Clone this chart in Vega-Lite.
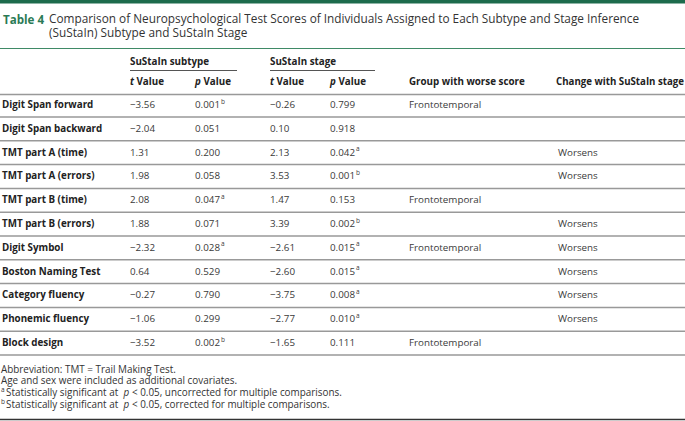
{
  "$schema": "https://vega.github.io/schema/vega-lite/v6.json",
  "width": 685,
  "height": 421,
  "padding": 0,
  "autosize": {"type": "none"},
  "background": "white",
  "config": {"view": {"stroke": null}, "text": {"font": "Open Sans"}},
  "datasets": {
    "tests": [
      {"test": "Digit Span forward", "t_sub": "−3.56", "p_sub": "0.001", "p_sub_note": "b", "t_stage": "−0.26", "p_stage": "0.799", "p_stage_note": "", "group": "Frontotemporal", "change": ""},
      {"test": "Digit Span backward", "t_sub": "−2.04", "p_sub": "0.051", "p_sub_note": "", "t_stage": "0.10", "p_stage": "0.918", "p_stage_note": "", "group": "", "change": ""},
      {"test": "TMT part A (time)", "t_sub": "1.31", "p_sub": "0.200", "p_sub_note": "", "t_stage": "2.13", "p_stage": "0.042", "p_stage_note": "a", "group": "", "change": "Worsens"},
      {"test": "TMT part A (errors)", "t_sub": "1.98", "p_sub": "0.058", "p_sub_note": "", "t_stage": "3.53", "p_stage": "0.001", "p_stage_note": "b", "group": "", "change": "Worsens"},
      {"test": "TMT part B (time)", "t_sub": "2.08", "p_sub": "0.047", "p_sub_note": "a", "t_stage": "1.47", "p_stage": "0.153", "p_stage_note": "", "group": "Frontotemporal", "change": ""},
      {"test": "TMT part B (errors)", "t_sub": "1.88", "p_sub": "0.071", "p_sub_note": "", "t_stage": "3.39", "p_stage": "0.002", "p_stage_note": "b", "group": "", "change": "Worsens"},
      {"test": "Digit Symbol", "t_sub": "−2.32", "p_sub": "0.028", "p_sub_note": "a", "t_stage": "−2.61", "p_stage": "0.015", "p_stage_note": "a", "group": "Frontotemporal", "change": "Worsens"},
      {"test": "Boston Naming Test", "t_sub": "0.64", "p_sub": "0.529", "p_sub_note": "", "t_stage": "−2.60", "p_stage": "0.015", "p_stage_note": "a", "group": "", "change": "Worsens"},
      {"test": "Category fluency", "t_sub": "−0.27", "p_sub": "0.790", "p_sub_note": "", "t_stage": "−3.75", "p_stage": "0.008", "p_stage_note": "a", "group": "", "change": "Worsens"},
      {"test": "Phonemic fluency", "t_sub": "−1.06", "p_sub": "0.299", "p_sub_note": "", "t_stage": "−2.77", "p_stage": "0.010", "p_stage_note": "a", "group": "", "change": "Worsens"},
      {"test": "Block design", "t_sub": "−3.52", "p_sub": "0.002", "p_sub_note": "b", "t_stage": "−1.65", "p_stage": "0.111", "p_stage_note": "", "group": "Frontotemporal", "change": ""}
    ],
    "one": [{}]
  },
  "layer": [
    {"data": {"name": "one"}, "mark": {"type": "rule", "color": "#1d6b4c", "strokeWidth": 4}, "encoding": {"y": {"value": 1.5}}},
    {"data": {"name": "one"}, "mark": {"type": "rule", "color": "#3f8a66", "strokeWidth": 1}, "encoding": {"y": {"value": 48.5}}},
    {"data": {"name": "one"}, "mark": {"type": "rule", "color": "#555", "strokeWidth": 1}, "encoding": {"x": {"value": 130}, "x2": {"value": 237}, "y": {"value": 70.5}}},
    {"data": {"name": "one"}, "mark": {"type": "rule", "color": "#555", "strokeWidth": 1}, "encoding": {"x": {"value": 270}, "x2": {"value": 375}, "y": {"value": 70.5}}},
    {"data": {"name": "one"}, "mark": {"type": "rule", "color": "#999", "strokeWidth": 1.5}, "encoding": {"y": {"value": 94.5}}},
    {"data": {"name": "one"}, "mark": {"type": "rule", "color": "#333", "strokeWidth": 1.5}, "encoding": {"y": {"value": 419.5}}},
    {"data": {"name": "one"}, "mark": {"type": "text", "align": "left", "baseline": "middle", "fontSize": 11.6, "fontWeight": "bold", "color": "#2a7a55"}, "encoding": {"x": {"value": 3}, "y": {"value": 21}, "text": {"value": "Table 4"}}},
    {"data": {"name": "one"}, "mark": {"type": "text", "align": "left", "baseline": "top", "fontSize": 11.8, "lineHeight": 14, "color": "#333"}, "encoding": {"x": {"value": 49}, "y": {"value": 13.5}, "text": {"value": ["Comparison of Neuropsychological Test Scores of Individuals Assigned to Each Subtype and Stage Inference", "(SuStaIn) Subtype and SuStaIn Stage"]}}},
    {"data": {"name": "one"}, "mark": {"type": "text", "align": "left", "baseline": "middle", "fontSize": 9.8, "fontWeight": "bold", "color": "#222"}, "encoding": {"x": {"value": 130}, "y": {"value": 62}, "text": {"value": "SuStaIn subtype"}}},
    {"data": {"name": "one"}, "mark": {"type": "text", "align": "left", "baseline": "middle", "fontSize": 9.8, "fontWeight": "bold", "color": "#222"}, "encoding": {"x": {"value": 270}, "y": {"value": 62}, "text": {"value": "SuStaIn stage"}}},
    {"data": {"name": "one"}, "mark": {"type": "text", "align": "left", "baseline": "middle", "fontSize": 9.8, "fontWeight": "bold", "fontStyle": "italic", "color": "#222"}, "encoding": {"x": {"value": 130}, "y": {"value": 82}, "text": {"value": "t"}}},
    {"data": {"name": "one"}, "mark": {"type": "text", "align": "left", "baseline": "middle", "fontSize": 9.8, "fontWeight": "bold", "fontStyle": "italic", "color": "#222"}, "encoding": {"x": {"value": 195}, "y": {"value": 82}, "text": {"value": "p"}}},
    {"data": {"name": "one"}, "mark": {"type": "text", "align": "left", "baseline": "middle", "fontSize": 9.8, "fontWeight": "bold", "fontStyle": "italic", "color": "#222"}, "encoding": {"x": {"value": 270}, "y": {"value": 82}, "text": {"value": "t"}}},
    {"data": {"name": "one"}, "mark": {"type": "text", "align": "left", "baseline": "middle", "fontSize": 9.8, "fontWeight": "bold", "fontStyle": "italic", "color": "#222"}, "encoding": {"x": {"value": 330}, "y": {"value": 82}, "text": {"value": "p"}}},
    {"data": {"name": "one"}, "mark": {"type": "text", "align": "left", "baseline": "middle", "fontSize": 9.8, "fontWeight": "bold", "color": "#222"}, "encoding": {"x": {"value": 136.5}, "y": {"value": 82}, "text": {"value": "Value"}}},
    {"data": {"name": "one"}, "mark": {"type": "text", "align": "left", "baseline": "middle", "fontSize": 9.8, "fontWeight": "bold", "color": "#222"}, "encoding": {"x": {"value": 203.5}, "y": {"value": 82}, "text": {"value": "Value"}}},
    {"data": {"name": "one"}, "mark": {"type": "text", "align": "left", "baseline": "middle", "fontSize": 9.8, "fontWeight": "bold", "color": "#222"}, "encoding": {"x": {"value": 276.5}, "y": {"value": 82}, "text": {"value": "Value"}}},
    {"data": {"name": "one"}, "mark": {"type": "text", "align": "left", "baseline": "middle", "fontSize": 9.8, "fontWeight": "bold", "color": "#222"}, "encoding": {"x": {"value": 338.5}, "y": {"value": 82}, "text": {"value": "Value"}}},
    {"data": {"name": "one"}, "mark": {"type": "text", "align": "left", "baseline": "middle", "fontSize": 9.8, "fontWeight": "bold", "color": "#222"}, "encoding": {"x": {"value": 409}, "y": {"value": 82}, "text": {"value": "Group with worse score"}}},
    {"data": {"name": "one"}, "mark": {"type": "text", "align": "left", "baseline": "middle", "fontSize": 9.7, "fontWeight": "bold", "color": "#222"}, "encoding": {"x": {"value": 556}, "y": {"value": 82}, "text": {"value": "Change with SuStaIn stage"}}},
    {"data": {"name": "one"}, "mark": {"type": "text", "align": "left", "baseline": "top", "fontSize": 9.9, "lineHeight": 11.7, "color": "#333"}, "encoding": {"x": {"value": 1}, "y": {"value": 364.5}, "text": {"value": ["Abbreviation: TMT = Trail Making Test.", "Age and sex were included as additional covariates."]}}},
    {"data": {"name": "one"}, "mark": {"type": "text", "align": "left", "baseline": "top", "fontSize": 6.5, "lineHeight": 11.7, "color": "#333"}, "encoding": {"x": {"value": 1}, "y": {"value": 387}, "text": {"value": ["a", "b"]}}},
    {"data": {"name": "one"}, "mark": {"type": "text", "align": "left", "baseline": "top", "fontSize": 9.9, "lineHeight": 11.7, "color": "#333"}, "encoding": {"x": {"value": 6}, "y": {"value": 387.9}, "text": {"value": ["Statistically significant at", "Statistically significant at"]}}},
    {"data": {"name": "one"}, "mark": {"type": "text", "align": "left", "baseline": "top", "fontSize": 9.9, "lineHeight": 11.7, "fontStyle": "italic", "color": "#333"}, "encoding": {"x": {"value": 123.5}, "y": {"value": 387.9}, "text": {"value": ["p", "p"]}}},
    {"data": {"name": "one"}, "mark": {"type": "text", "align": "left", "baseline": "top", "fontSize": 9.9, "lineHeight": 11.7, "color": "#333"}, "encoding": {"x": {"value": 132}, "y": {"value": 387.9}, "text": {"value": ["< 0.05, uncorrected for multiple comparisons.", "< 0.05, corrected for multiple comparisons."]}}},
    {"data": {"name": "tests"}, "mark": {"type": "rule", "color": "#999", "strokeWidth": 1.5, "yOffset": 12}, "encoding": {"y": {"field": "test", "type": "nominal", "sort": null, "axis": null, "scale": {"type": "point", "range": [105, 343], "padding": 0}}}},
    {"data": {"name": "tests"}, "mark": {"type": "text", "align": "left", "baseline": "middle", "fontSize": 9.8, "fontWeight": "bold", "color": "#222"}, "encoding": {"x": {"value": 2}, "y": {"field": "test", "type": "nominal", "sort": null, "axis": null}, "text": {"field": "test"}}},
    {"data": {"name": "tests"}, "mark": {"type": "text", "align": "left", "baseline": "middle", "fontSize": 9.8, "color": "#3a3a3a"}, "encoding": {"x": {"value": 130}, "y": {"field": "test", "type": "nominal", "sort": null, "axis": null}, "text": {"field": "t_sub"}}},
    {"data": {"name": "tests"}, "mark": {"type": "text", "align": "left", "baseline": "middle", "fontSize": 9.8, "color": "#3a3a3a"}, "encoding": {"x": {"value": 195}, "y": {"field": "test", "type": "nominal", "sort": null, "axis": null}, "text": {"field": "p_sub"}}},
    {"data": {"name": "tests"}, "mark": {"type": "text", "align": "left", "baseline": "middle", "fontSize": 6.5, "dy": -3.5, "color": "#3a3a3a"}, "encoding": {"x": {"value": 221}, "y": {"field": "test", "type": "nominal", "sort": null, "axis": null}, "text": {"field": "p_sub_note"}}},
    {"data": {"name": "tests"}, "mark": {"type": "text", "align": "left", "baseline": "middle", "fontSize": 9.8, "color": "#3a3a3a"}, "encoding": {"x": {"value": 270}, "y": {"field": "test", "type": "nominal", "sort": null, "axis": null}, "text": {"field": "t_stage"}}},
    {"data": {"name": "tests"}, "mark": {"type": "text", "align": "left", "baseline": "middle", "fontSize": 9.8, "color": "#3a3a3a"}, "encoding": {"x": {"value": 330}, "y": {"field": "test", "type": "nominal", "sort": null, "axis": null}, "text": {"field": "p_stage"}}},
    {"data": {"name": "tests"}, "mark": {"type": "text", "align": "left", "baseline": "middle", "fontSize": 6.5, "dy": -3.5, "color": "#3a3a3a"}, "encoding": {"x": {"value": 356}, "y": {"field": "test", "type": "nominal", "sort": null, "axis": null}, "text": {"field": "p_stage_note"}}},
    {"data": {"name": "tests"}, "mark": {"type": "text", "align": "left", "baseline": "middle", "fontSize": 9.8, "color": "#3a3a3a"}, "encoding": {"x": {"value": 409}, "y": {"field": "test", "type": "nominal", "sort": null, "axis": null}, "text": {"field": "group"}}},
    {"data": {"name": "tests"}, "mark": {"type": "text", "align": "left", "baseline": "middle", "fontSize": 9.8, "color": "#3a3a3a"}, "encoding": {"x": {"value": 558}, "y": {"field": "test", "type": "nominal", "sort": null, "axis": null}, "text": {"field": "change"}}}
  ]
}
